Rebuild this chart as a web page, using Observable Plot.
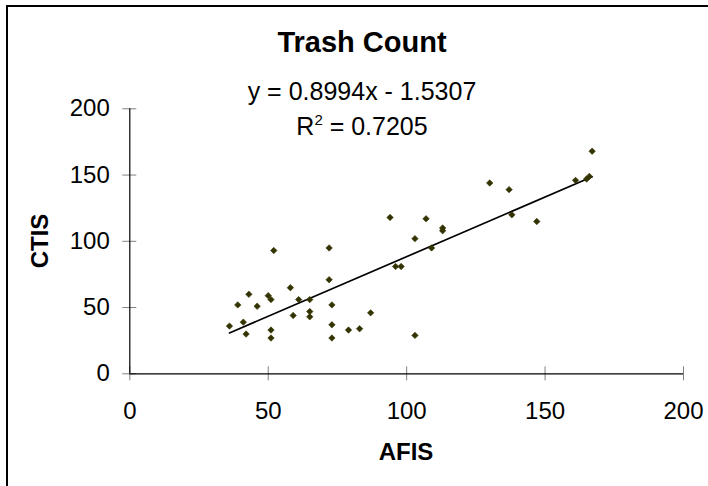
<!DOCTYPE html>
<html>
<head>
<meta charset="utf-8">
<script src="https://cdn.jsdelivr.net/npm/d3@7"></script>
<script src="https://cdn.jsdelivr.net/npm/@observablehq/plot@0.6"></script>
<style>
  body { margin: 0; background: #fff; }
  #wrap { position: relative; width: 708px; height: 486px; overflow: hidden; background: #fff;
          font-family: Arial, "Liberation Sans", sans-serif; color: #000; }
  #frame { position: absolute; left: 6px; top: 5px; width: 900px; height: 900px;
           border-left: 2px solid #000; border-top: 2px solid #000; }
  #chart { position: absolute; left: 0; top: 0; }
  .txt { position: absolute; left: 0; width: 724px; text-align: center; line-height: 1; white-space: nowrap; }
  #title { top: 28px; font-size: 29px; font-weight: bold; }
  #eq { top: 79px; font-size: 25px; }
  #r2 { top: 114px; font-size: 25px; }
  #r2 sup { font-size: 15px; vertical-align: 0; position: relative; top: -10px; }
  #xlabel { position: absolute; left: 306px; width: 200px; top: 440px; text-align: center;
            font-size: 24px; font-weight: bold; line-height: 1; }
  #ylabel { position: absolute; left: -60px; width: 200px; top: 229px; text-align: center;
            font-size: 24px; font-weight: bold; line-height: 1; transform: rotate(-90deg); }
</style>
</head>
<body>
<div id="wrap">
  <div id="frame"></div>
  <div id="chart"></div>
  <div id="title" class="txt"></div>
  <div id="eq" class="txt"></div>
  <div id="r2" class="txt"></div>
  <div id="xlabel"></div>
  <div id="ylabel"></div>
</div>
<script>
// ---- data ----
const chartTitle = "Trash Count";
const xTitle = "AFIS";
const yTitle = "CTIS";
const afis = [36, 39, 41, 42, 43, 46, 50, 51, 51, 51, 52, 58, 59, 61, 65, 65, 65, 72, 72, 73, 73, 73,
              79, 83, 87, 94, 96, 98, 103, 103, 107, 109, 113, 113, 130, 137, 138, 147, 161, 165, 166, 167];
const ctis = [36, 52, 39, 30, 60, 51, 59, 56, 33, 27, 93, 65, 44, 56, 56, 47, 43, 95, 71, 52, 37, 27,
              33, 34, 46, 118, 81, 81, 102, 29, 117, 95, 110, 108, 144, 139, 120, 115, 146, 147, 149, 168];
const slope = 0.8994;
const intercept = -1.5307;
const rSquared = 0.7205;
const xTicks = [0, 50, 100, 150, 200];
const yTicks = [0, 50, 100, 150, 200];

// ---- derived tables ----
const points = afis.map((x, i) => ({x, y: ctis[i]}));
const trend = d3.extent(afis).map(x => ({x, y: slope * x + intercept}));

document.getElementById("title").textContent = chartTitle;
document.getElementById("eq").textContent =
  `y = ${slope}x ${intercept < 0 ? "-" : "+"} ${Math.abs(intercept)}`;
document.getElementById("r2").innerHTML = `R<sup>2</sup> = ${rSquared}`;
document.getElementById("xlabel").textContent = xTitle;
document.getElementById("ylabel").textContent = yTitle;

const chart = Plot.plot({
  width: 708,
  height: 486,
  marginLeft: 129.3,
  marginRight: 25,
  marginTop: 108.3,
  marginBottom: 112.7,
  x: {domain: [0, 200]},
  y: {domain: [0, 200]},
  style: {fontFamily: "Arial, 'Liberation Sans', sans-serif", fontSize: "24px", color: "#000",
          background: "transparent", overflow: "visible"},
  marks: [
    Plot.axisX({ticks: xTicks, tickSize: 14, dy: -7, tickFormat: () => "", stroke: "#808080", label: null}),
    Plot.axisX({ticks: xTicks, tickSize: 0, tickPadding: 28, label: null, fill: "#000"}),
    Plot.axisY({ticks: yTicks, tickSize: 14, dx: 7, tickFormat: () => "", stroke: "#808080", label: null}),
    Plot.axisY({ticks: yTicks, tickSize: 0, tickPadding: 20, label: null, fill: "#000"}),
    Plot.ruleX([0], {stroke: "#000", strokeWidth: 1.2}),
    Plot.ruleY([0], {stroke: "#000", strokeWidth: 1.2}),
    Plot.line(trend, {x: "x", y: "y", stroke: "#000", strokeWidth: 1.7}),
    Plot.dot(points, {x: "x", y: "y", symbol: "diamond2", r: 2.9, fill: "#333300", stroke: "#333300", strokeWidth: 0.6})
  ]
});
document.getElementById("chart").appendChild(chart);
</script>
</body>
</html>
